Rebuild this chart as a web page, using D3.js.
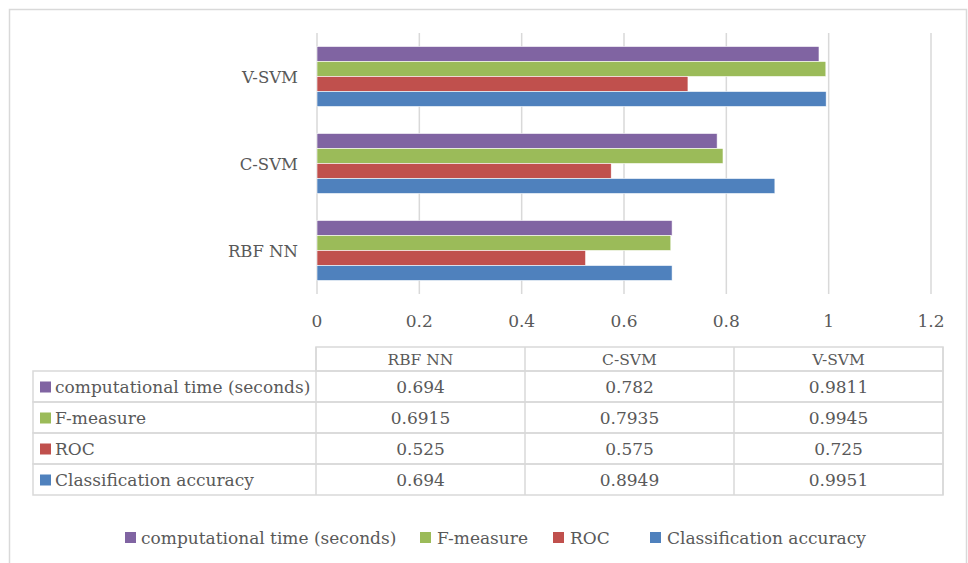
<!DOCTYPE html>
<html>
<head>
<meta charset="utf-8">
<script src="https://cdn.jsdelivr.net/npm/d3@7"></script>
<style>
  html, body { margin: 0; padding: 0; background: #fff; }
  svg text { font-family: "DejaVu Serif", serif; fill: #595959; }
</style>
</head>
<body>
<svg id="chart" width="968" height="563"></svg>
<script>
// Models on the category axis (bottom to top in the plot)
const categories = ["RBF NN", "C-SVM", "V-SVM"];
// Series, listed top-to-bottom as they appear in the table and legend
const seriesNames = ["computational time (seconds)", "F-measure", "ROC", "Classification accuracy"];
const computationalTime = [0.694, 0.782, 0.9811];
const fMeasure = [0.6915, 0.7935, 0.9945];
const roc = [0.525, 0.575, 0.725];
const classificationAccuracy = [0.694, 0.8949, 0.9951];
const valueLabels = [
  ["0.694", "0.782", "0.9811"],
  ["0.6915", "0.7935", "0.9945"],
  ["0.525", "0.575", "0.725"],
  ["0.694", "0.8949", "0.9951"]
];
const xTicks = [0, 0.2, 0.4, 0.6, 0.8, 1, 1.2];
const seriesColors = ["#8064A2", "#9BBB59", "#C0504D", "#4F81BD"];

const seriesValues = [computationalTime, fMeasure, roc, classificationAccuracy];

const svg = d3.select("#chart");
const grid = "#d9d9d9";

// outer chart frame
svg.append("rect")
  .attr("x", 9.5).attr("y", 9.5).attr("width", 957).attr("height", 570)
  .attr("fill", "none").attr("stroke", grid).attr("stroke-width", 1.5);

const plot = { left: 317, right: 931, top: 33, bottom: 294 };

const x = d3.scaleLinear().domain([0, 1.2]).range([plot.left, plot.right]);
const y = d3.scaleBand()
  .domain(categories.slice().reverse())
  .range([plot.top, plot.bottom])
  .paddingInner(0.31).paddingOuter(0.155);
const ySeries = d3.scaleBand().domain(seriesNames).range([0, y.bandwidth()]);

// vertical gridlines (including the axis at 0)
svg.append("g").selectAll("line").data(xTicks).join("line")
  .attr("x1", d => x(d)).attr("x2", d => x(d))
  .attr("y1", plot.top).attr("y2", plot.bottom)
  .attr("stroke", grid).attr("stroke-width", 1.5);

// x tick labels
svg.append("g").selectAll("text").data(xTicks).join("text")
  .attr("x", d => x(d)).attr("y", 327)
  .attr("text-anchor", "middle").attr("font-size", 17)
  .text(d => d3.format("~g")(d));

// category labels
svg.append("g").selectAll("text").data(categories).join("text")
  .attr("x", 298).attr("y", d => y(d) + y.bandwidth() / 2 + 6)
  .attr("text-anchor", "end").attr("font-size", 16.5)
  .text(d => d);

// bars
seriesNames.forEach((name, si) => {
  svg.append("g").selectAll("rect").data(categories).join("rect")
    .attr("x", x(0))
    .attr("y", c => y(c) + ySeries(name))
    .attr("width", (c, ci) => x(seriesValues[si][ci]) - x(0))
    .attr("height", ySeries.bandwidth())
    .attr("fill", seriesColors[si])
    .attr("stroke", "#fff").attr("stroke-width", 0.6);
});

// data table under the axis
const tbl = { left: 33, colStart: 316, colW: 209, headTop: 347, headH: 24, rowH: 31 };
const colX = i => tbl.colStart + i * tbl.colW;
const tableRight = colX(categories.length);
const rowTop = r => tbl.headTop + tbl.headH + r * tbl.rowH;
const tg = svg.append("g").attr("stroke", grid).attr("stroke-width", 1.5);

// header row (no label cell)
tg.append("rect").attr("x", tbl.colStart).attr("y", tbl.headTop)
  .attr("width", tableRight - tbl.colStart).attr("height", tbl.headH).attr("fill", "none");
// body rows
seriesNames.forEach((n, r) => {
  tg.append("rect").attr("x", tbl.left).attr("y", rowTop(r))
    .attr("width", tableRight - tbl.left).attr("height", tbl.rowH).attr("fill", "none");
});
// column separators
for (let i = 0; i <= categories.length; i++) {
  tg.append("line").attr("x1", colX(i)).attr("x2", colX(i))
    .attr("y1", tbl.headTop).attr("y2", rowTop(seriesNames.length));
}

// header texts
svg.append("g").selectAll("text").data(categories).join("text")
  .attr("x", (d, i) => colX(i) + tbl.colW / 2).attr("y", tbl.headTop + 18)
  .attr("text-anchor", "middle").attr("font-size", 15.5)
  .text(d => d);

// row labels with swatches, and values
seriesNames.forEach((name, r) => {
  const cy = rowTop(r) + tbl.rowH / 2;
  svg.append("rect").attr("x", 40).attr("y", cy - 5).attr("width", 11).attr("height", 11)
    .attr("fill", seriesColors[r]);
  svg.append("text").attr("x", 55).attr("y", cy + 6).attr("font-size", 17).text(name);
  categories.forEach((c, ci) => {
    svg.append("text")
      .attr("x", colX(ci) + tbl.colW / 2).attr("y", cy + 6)
      .attr("text-anchor", "middle").attr("font-size", 17)
      .text(valueLabels[r][ci]);
  });
});

// bottom legend
const legendItems = [
  { sx: 125, tx: 141 },
  { sx: 420, tx: 437 },
  { sx: 553, tx: 570 },
  { sx: 650, tx: 667 }
];
seriesNames.forEach((name, i) => {
  svg.append("rect").attr("x", legendItems[i].sx).attr("y", 532)
    .attr("width", 11).attr("height", 11).attr("fill", seriesColors[i]);
  svg.append("text").attr("x", legendItems[i].tx).attr("y", 544)
    .attr("font-size", 17).text(name);
});
</script>
</body>
</html>
